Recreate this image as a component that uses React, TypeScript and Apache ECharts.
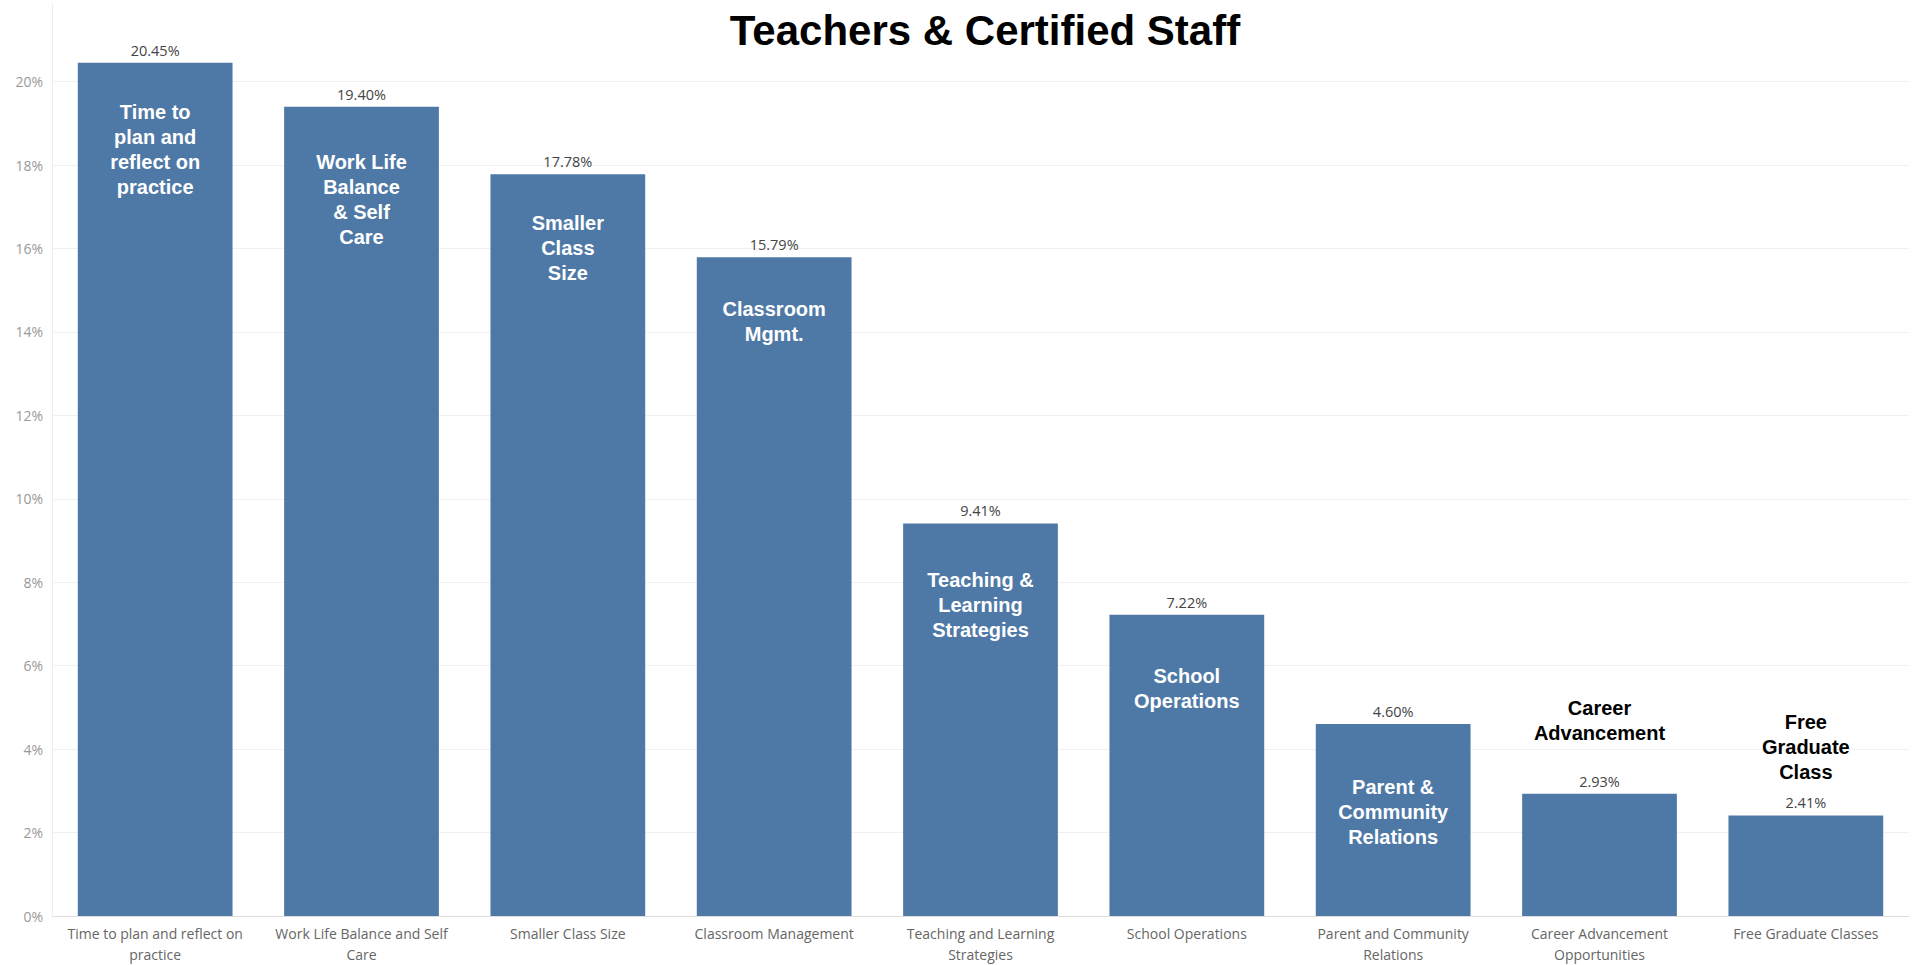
import React, { useEffect, useRef } from "react";
import * as echarts from "echarts";

const categories = [
  "Time to plan and reflect on\npractice",
  "Work Life Balance and Self\nCare",
  "Smaller Class Size",
  "Classroom Management",
  "Teaching and Learning\nStrategies",
  "School Operations",
  "Parent and Community\nRelations",
  "Career Advancement\nOpportunities",
  "Free Graduate Classes",
];

const values = [20.45, 19.4, 17.78, 15.79, 9.41, 7.22, 4.6, 2.93, 2.41];

const annotations = [
  "Time to\nplan and\nreflect on\npractice",
  "Work Life\nBalance\n& Self\nCare",
  "Smaller\nClass\nSize",
  "Classroom\nMgmt.",
  "Teaching &\nLearning\nStrategies",
  "School\nOperations",
  "Parent &\nCommunity\nRelations",
  "Career\nAdvancement",
  "Free\nGraduate\nClass",
];

// annotations drawn above the bar instead of inside it
const annotationsAbove = [false, false, false, false, false, false, false, true, true];
const annotationDistance = [37, 43, 36, 39, 44, 49, 50, 48, 31];

const titleText = "Teachers & Certified Staff";

export default function App() {
  const ref = useRef<HTMLDivElement>(null);

  useEffect(() => {
    document.body.style.margin = "0";
    const chart = echarts.init(ref.current!, undefined, { renderer: "svg" });
    const tabFont = "'Open Sans', Lato, sans-serif";
    const boldFont = "'Liberation Sans', Arial, sans-serif";

    const annotationData = values.map((v, i) => ({
      value: v,
      label: annotationsAbove[i]
        ? {
            show: true,
            position: "top",
            distance: annotationDistance[i],
            color: "#000",
            formatter: annotations[i],
          }
        : {
            show: true,
            position: "insideTop",
            distance: annotationDistance[i],
            color: "#fff",
            formatter: annotations[i],
          },
    }));

    chart.setOption({
      animation: false,
      backgroundColor: "#fff",
      title: {
        text: titleText,
        left: 980,
        top: 4,
        textAlign: "center",
        textStyle: {
          fontFamily: boldFont,
          fontWeight: "bold",
          fontSize: 42,
          color: "#000",
        },
      },
      grid: { left: 52, right: 6, top: 4, bottom: 46, containLabel: false },
      xAxis: {
        type: "category",
        data: categories,
        axisLine: { show: true, lineStyle: { color: "#e0e0e0" } },
        axisTick: { show: false },
        axisLabel: {
          interval: 0,
          color: "#666",
          fontFamily: tabFont,
          fontSize: 14,
          lineHeight: 21,
          margin: 7,
        },
      },
      yAxis: {
        type: "value",
        min: 0,
        max: 21.86,
        interval: 2,
        axisLine: { show: true, lineStyle: { color: "#ececec" } },
        axisTick: { show: false },
        splitLine: { show: true, showMaxLine: false, lineStyle: { color: "#f0f0f0" } },
        axisLabel: {
          showMaxLabel: false,
          color: "#999",
          fontFamily: tabFont,
          fontSize: 14,
          margin: 9,
          formatter: (v: number) => `${v}%`,
        },
      },
      series: [
        {
          type: "bar",
          data: values,
          barWidth: "75%",
          itemStyle: { color: "#4e79a7" },
          label: {
            show: true,
            position: "top",
            distance: 5,
            color: "#444",
            fontFamily: tabFont,
            fontSize: 14.5,
            formatter: (p: any) => `${Number(p.value).toFixed(2)}%`,
          },
        },
        {
          type: "bar",
          data: annotationData,
          barWidth: "75%",
          barGap: "-100%",
          itemStyle: { color: "rgba(0,0,0,0)" },
          label: {
            show: true,
            fontFamily: boldFont,
            fontWeight: "bold",
            fontSize: 20,
            lineHeight: 25,
            align: "center",
          },
          silent: true,
        },
      ],
    });
    return () => chart.dispose();
  }, []);

  return (
    <div
      ref={ref}
      style={{ position: "absolute", left: 0, top: 0, width: 1915, height: 965 }}
    />
  );
}
